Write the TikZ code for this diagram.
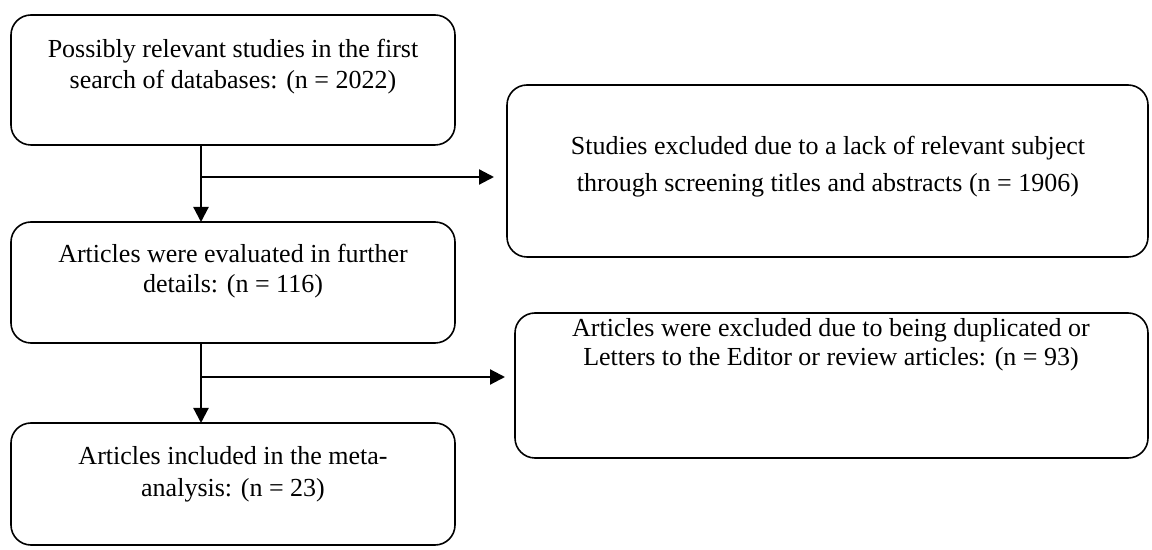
\documentclass[tikz,border=0pt]{standalone}
\usepackage{fontspec}
\setmainfont{Liberation Serif}
\usetikzlibrary{arrows.meta}
\begin{document}
\begin{tikzpicture}[x=0.5pt,y=-0.5pt,
  box/.style={draw, line width=0.8pt, rounded corners=10pt},
  txt/.style={anchor=base, font=\fontsize{13}{15.5}\selectfont, inner sep=0pt},
  arr/.style={line width=1.1pt, -{Triangle[length=7.5pt,width=7.5pt]}}]
\useasboundingbox (0,0) rectangle (1152,550);
% boxes
\draw[box] (11,15) rectangle (455,145);
\coordinate (b1s) at (201,145);
\draw[box] (11,222) rectangle (455,343);
\coordinate (b2n) at (201,222);
\coordinate (b2s) at (201,343);
\draw[box] (11,423) rectangle (455,545);
\coordinate (b3n) at (201,423);
\draw[box] (507,85) rectangle (1148,257);
\coordinate (r1w) at (494,177);
\draw[box] (515,313) rectangle (1148,458);
\coordinate (r2w) at (505,377);
% texts
\node[txt] (t1a) at (233,58) {Possibly relevant studies in the first};
\node[txt] (t1b) at (233,89) {search of databases: (n = 2022)};
\node[txt] (t2a) at (233,263) {Articles were evaluated in further};
\node[txt] (t2b) at (233,293) {details: (n = 116)};
\node[txt] (t3a) at (233,465) {Articles included in the meta-};
\node[txt] (t3b) at (233,497) {analysis: (n = 23)};
\node[txt] (r1a) at (828,155) {Studies excluded due to a lack of relevant subject};
\node[txt] (r1b) at (828,192) {through screening titles and abstracts (n = 1906)};
\node[txt] (r2a) at (831,337) {Articles were excluded due to being duplicated or};
\node[txt] (r2b) at (831,366) {Letters to the Editor or review articles: (n = 93)};
% connectors
\coordinate (j1) at (201,177);
\coordinate (j2) at (201,377);
\draw[arr] (b1s) -- (b2n);
\draw[arr] (j1) -- (r1w);
\draw[arr] (b2s) -- (b3n);
\draw[arr] (j2) -- (r2w);
\end{tikzpicture}
\end{document}
